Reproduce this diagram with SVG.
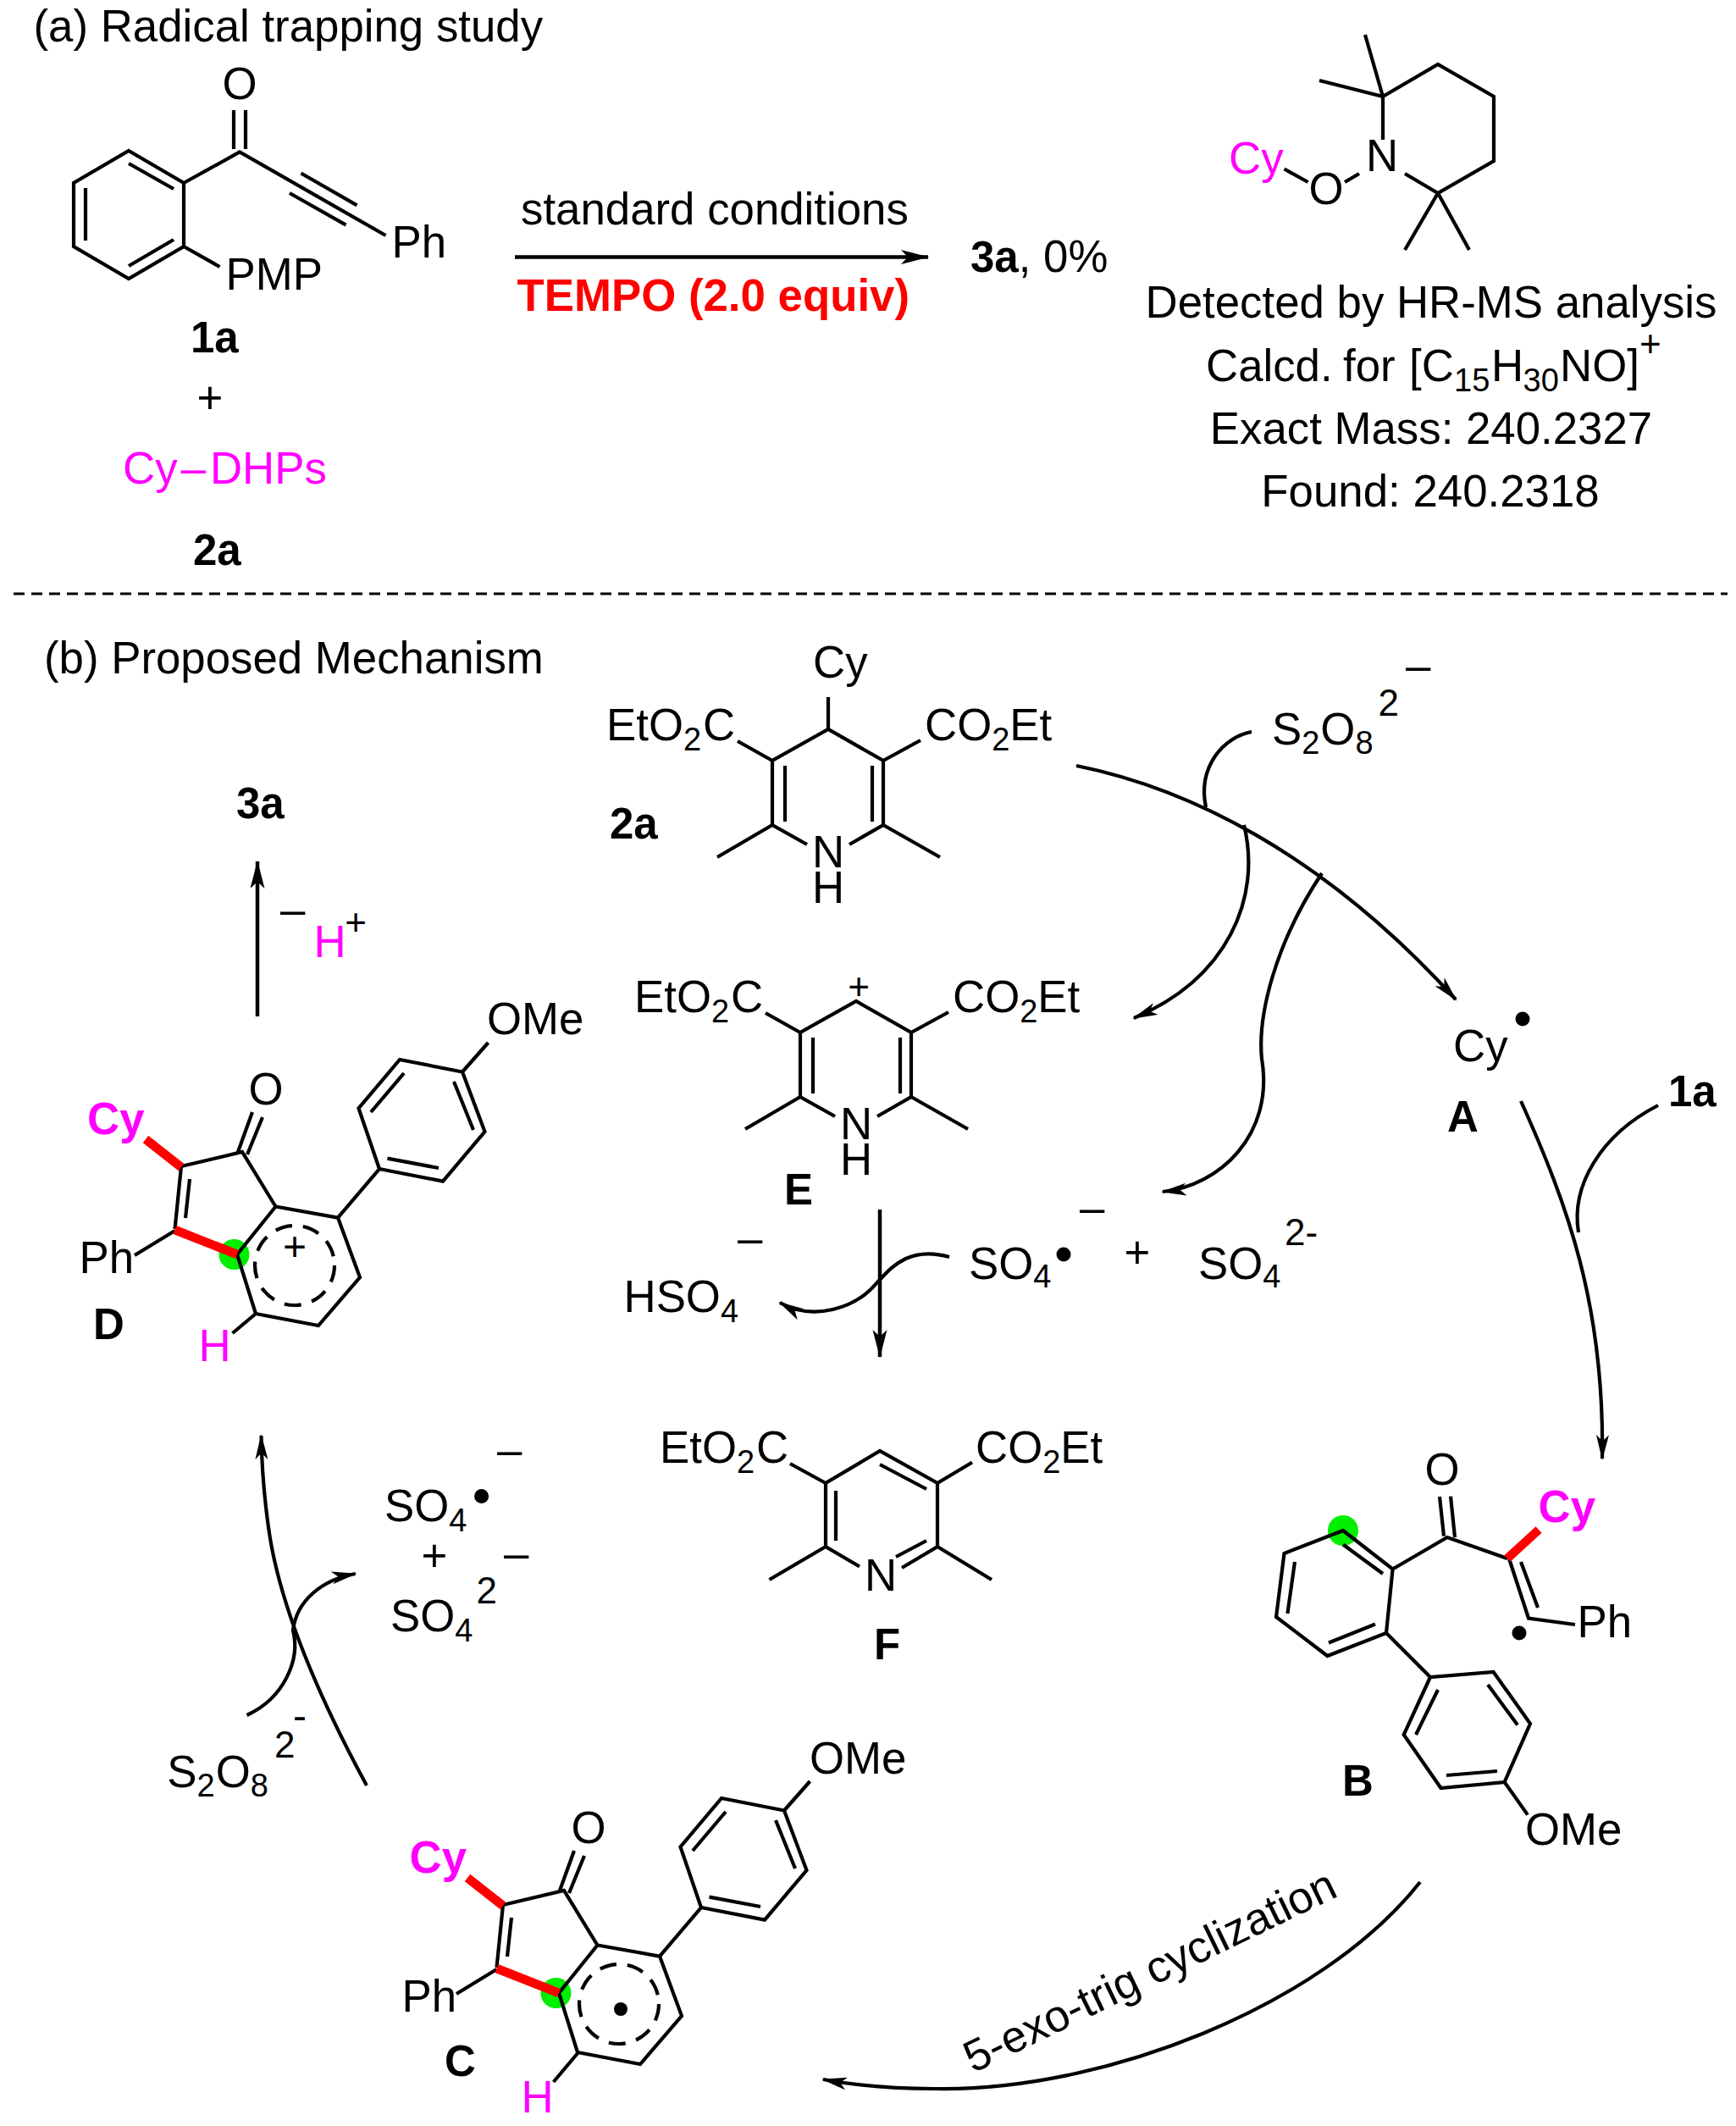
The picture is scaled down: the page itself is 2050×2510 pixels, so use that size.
<svg xmlns="http://www.w3.org/2000/svg" xmlns:xlink="http://www.w3.org/1999/xlink" width="2050" height="2510" viewBox="0 0 2050 2510">
<style>
text{font-family:"Liberation Sans",Arial,sans-serif;font-size:52.800px;fill:#000}
.b{font-weight:700}
.l{font-weight:700;font-size:51px}
.m{fill:#f0f}
.r{fill:#f00}
.s{font-size:38px}
.u{font-size:44px}
.mid{text-anchor:middle}
.bond{fill:none;stroke:#000;stroke-width:4.200;stroke-linejoin:miter}
.red{fill:none;stroke:#f00;stroke-width:10.500}
.dashring{fill:none;stroke:#000;stroke-width:4.200;stroke-dasharray:20 13}
.arr{fill:none;stroke:#000;stroke-width:4.200;marker-end:url(#hs)}
.arrb{fill:none;stroke:#000;stroke-width:4.500;marker-end:url(#hb)}
.crv{fill:none;stroke:#000;stroke-width:4.200}
.grn{fill:#00ee00}
</style>
<defs>
<marker id="hs" markerUnits="userSpaceOnUse" markerWidth="32" markerHeight="17" refX="28" refY="7.500" orient="auto"><path d="M30 7.500L0 0L7.500 7.500L0 15Z" fill="#000"/></marker>
<marker id="hb" markerUnits="userSpaceOnUse" markerWidth="36" markerHeight="20" refX="32" refY="8.500" orient="auto"><path d="M33 8.500L0 0L8 8.500L0 17Z" fill="#000"/></marker>
<g id="dhp-skeleton">
<path class="bond" d="M953 997L912 974V898L978 861L1043 898V974L1003 997M927 904V970M1030 904V970M912 974L847 1012M1043 974L1110 1012M912 898L871 875M1043 898L1087 874"/>
</g>
<g id="indenone-skeleton">
<circle class="grn" cx="276.500" cy="1481" r="18"/>
<path class="bond" d="M214 1377L286 1360L325.500 1424.500M214 1377L206.500 1451M224 1392L219 1438M281 1360L298 1313M292 1363L310 1319M159 1482L206.500 1453"/>
<path class="bond" d="M280 1481L325.500 1424.500L399 1437.600L425 1508L376 1565L302 1551Z"/>
<path class="bond" d="M399 1437.600L448 1380L423.500 1308.500L472 1251L546 1265.500L572.500 1336L523 1394.600L448 1380M438 1313L477 1267M536 1277L559 1334M518 1379L457.500 1367.600M546 1265.500L576.500 1231"/>
<path class="red" d="M172 1345L214 1378M206.500 1452L280 1481"/>
</g>
</defs>
<rect width="2050" height="2510" fill="#fff"/>

<g id="connectors">
<path id="divider" d="M16 701H2040" fill="none" stroke="#000" stroke-width="3" stroke-dasharray="13 8"/>
<path class="arrb" d="M608 303.500H1096"/>
<path class="arr" d="M1271 904C1400 930 1560 1005 1719 1180"/>
<path class="crv" d="M1478 864C1445 870 1414 905 1424 953"/>
<path class="arr" d="M1469 974C1490 1060 1450 1155 1339 1202"/>
<path class="arr" d="M1561 1031C1505 1115 1485 1200 1490 1250C1505 1340 1440 1400 1373 1407"/>
<path class="arr" d="M1796 1300C1850 1420 1895 1540 1892 1722"/>
<path class="crv" d="M1958 1305C1890 1340 1855 1400 1864 1455"/>
<path class="arrb" d="M1039 1428V1602"/>
<path class="arr" d="M1121 1484C1070 1470 1050 1500 1035 1515C1010 1545 960 1560 921 1538"/>
<path class="arrb" d="M304 1200V1017"/>
<path class="arr" d="M1677 2222C1560 2370 1300 2470 1103 2466C1055 2466 1010 2462 972 2455"/>
<path class="arr" d="M433 2108C380 2010 330 1900 317 1803C311 1760 309 1730 308.500 1695"/>
<path class="arr" d="M291.500 2025C335 2005 355 1960 346 1925C350 1890 380 1865 419.600 1858"/>
</g>

<g id="title-a"><text x="39.500" y="48.500">(a) Radical trapping study</text></g>
<g id="title-b"><text x="52" y="794.500">(b) Proposed Mechanism</text></g>

<g id="node-1a">
<path class="bond" d="M152 178L217 216V291L152 329L87 291V216ZM152 193L205 223M205 283L152 314M101 222V284M217 216L283 179.500L455.500 278M276 130V176M290 130V176M355.500 204.500L421.500 242.400M342 228L408.500 265.600M217 291L259.500 315"/>
<text class="mid" x="283" y="116.500">O</text>
<text x="462.500" y="303.500">Ph</text>
<text x="266.500" y="341.500">PMP</text>
<text class="l" x="225" y="415.500">1a</text>
<text class="mid" x="248" y="487.500">+</text>
<text class="m" x="145" y="570.500">Cy<tspan dx="4">–</tspan><tspan dx="5">DHPs</tspan></text>
<text class="l" x="228" y="666.500">2a</text>
</g>

<g id="conditions">
<text x="615" y="264.500">standard conditions</text>
<text class="b r" x="610.500" y="366.500">TEMPO (2.0 equiv)</text>
</g>
<g id="product-3a"><text x="1146" y="320.500"><tspan class="l">3a</tspan>, 0%</text></g>

<g id="node-tempo-adduct">
<path class="bond" d="M1633 165V114L1698 76L1764 114V190L1698 228L1659 205M1633 114L1612 41M1633 114L1558 95M1698 228L1659 295M1698 228L1735 295M1516.500 199.500L1544.600 215M1588 215L1605 205"/>
<text class="mid" x="1632" y="201.500">N</text>
<text class="mid" x="1566" y="240.500">O</text>
<text class="m" x="1451" y="204.500">Cy</text>
</g>
<g id="hrms">
<text class="mid" x="1690" y="374.500">Detected by HR-MS analysis</text>
<text y="450"><tspan x="1424">Calcd.</tspan> <tspan x="1586">for</tspan> <tspan x="1664">[C</tspan><tspan class="s" x="1717" y="462">15</tspan><tspan x="1761" y="450">H</tspan><tspan class="s" x="1798.500" y="462">30</tspan><tspan x="1842" y="450">NO]</tspan><tspan class="u" x="1936" y="421">+</tspan></text>
<text class="mid" x="1690" y="523.500">Exact Mass: 240.2327</text>
<text class="mid" x="1689" y="597.500">Found: 240.2318</text>
</g>

<g id="node-2a-dhp">
<use href="#dhp-skeleton"/>
<path class="bond" d="M978 861V823"/>
<text x="960" y="799.500">Cy</text>
<text x="716" y="873.500">EtO<tspan class="s" dy="12">2</tspan><tspan dx="2" dy="-12">C</tspan></text>
<text x="1092" y="873.500">CO<tspan class="s" dy="12">2</tspan><tspan dy="-12">Et</tspan></text>
<text class="mid"><tspan x="978" y="1024">N</tspan><tspan x="978" y="1066">H</tspan></text>
<text class="l" x="720" y="989.500">2a</text>
</g>

<g id="node-E">
<use href="#dhp-skeleton" transform="translate(33 321)"/>
<text class="u mid" x="1014" y="1180">+</text>
<text x="749" y="1194.500">EtO<tspan class="s" dy="12">2</tspan><tspan dx="2" dy="-12">C</tspan></text>
<text x="1125" y="1194.500">CO<tspan class="s" dy="12">2</tspan><tspan dy="-12">Et</tspan></text>
<text class="mid"><tspan x="1011" y="1345">N</tspan><tspan x="1011" y="1387">H</tspan></text>
<text class="l" x="926" y="1421.500">E</text>
</g>

<g id="node-F">
<path class="bond" d="M1015 1849.500L975 1826V1751L1039 1713L1107 1751V1826L1065 1851M987 1760V1819M1039 1729L1094 1758M1094 1819L1058 1838M975 1826L908.500 1865M1107 1826L1171 1865M975 1751L933 1728M1107 1751L1148 1726.500"/>
<text x="779" y="1726.500">EtO<tspan class="s" dy="12">2</tspan><tspan dx="2" dy="-12">C</tspan></text>
<text x="1152" y="1726.500">CO<tspan class="s" dy="12">2</tspan><tspan dy="-12">Et</tspan></text>
<text class="mid" x="1040" y="1877.500">N</text>
<text class="l" x="1032" y="1958.500">F</text>
</g>

<g id="node-S2O8-top">
<text x="1502" y="878.500">S<tspan class="s" dy="11">2</tspan><tspan dx="1" dy="-11">O</tspan><tspan class="s" dy="11">8</tspan><tspan class="u" dx="6" dy="-45">2</tspan></text>
<text x="1660" y="804">–</text>
</g>

<g id="node-A">
<text x="1716" y="1252.500">Cy</text>
<circle cx="1798" cy="1203" r="8.500"/>
<text class="l" x="1709" y="1335.500">A</text>
</g>
<g id="label-1a"><text class="l" x="1970" y="1305.500">1a</text></g>

<g id="node-SO4-radical">
<text x="1144" y="1509.500">SO<tspan class="s" dy="10">4</tspan></text>
<circle cx="1256" cy="1481" r="8.500"/>
<text x="1275" y="1444">–</text>
<text class="mid" x="1343" y="1496.500">+</text>
<text x="1415" y="1509.500">SO<tspan class="s" dy="10">4</tspan></text>
<text class="u" x="1517" y="1470">2-</text>
</g>

<g id="node-HSO4">
<text x="736.500" y="1548.500">HSO<tspan class="s" dy="12">4</tspan></text>
<text x="871" y="1480">–</text>
</g>

<g id="node-3a-top">
<text class="l" x="279" y="965.500">3a</text>
<text x="331" y="1092">–</text>
<text class="m" x="370.500" y="1129.500">H</text>
<text class="u mid" x="420" y="1104">+</text>
</g>

<g id="node-D">
<use href="#indenone-skeleton"/>
<path class="bond" d="M302 1551L274.500 1574"/>
<circle class="dashring" cx="348" cy="1494" r="47"/>
<text class="mid" x="348" y="1488" style="font-size:48px">+</text>
<text class="mid" x="314" y="1303.500">O</text>
<text class="b m" x="103" y="1338.500">Cy</text>
<text x="93.500" y="1502.500">Ph</text>
<text x="575" y="1221">OMe</text>
<text class="m" x="234.600" y="1606.500">H</text>
<text class="l" x="110" y="1580.500">D</text>
</g>

<g id="node-C">
<use href="#indenone-skeleton" transform="translate(380 872)"/>
<path class="bond" d="M683 2423L653.600 2458"/>
<circle class="dashring" cx="731" cy="2366" r="47"/>
<circle cx="733" cy="2372" r="8"/>
<text class="mid" x="695" y="2175.500">O</text>
<text class="b m" x="483.500" y="2210.500">Cy</text>
<text x="474.500" y="2374.500">Ph</text>
<text x="956" y="2093.500">OMe</text>
<text class="m" x="615.600" y="2494">H</text>
<text class="l" x="525" y="2450.500">C</text>
</g>

<g id="node-B">
<circle class="grn" cx="1586" cy="1807" r="18"/>
<path class="bond" d="M1586 1807L1644.600 1852.500L1637 1928L1567.500 1955L1507 1909L1516.500 1834ZM1586 1823.500L1633 1858M1624 1917.500L1569 1939.500M1520.400 1905L1529 1844M1644.600 1852.500L1709 1815L1780 1840M1700 1767L1705 1813.600M1713 1766.600L1718 1815M1782 1840L1805 1910.500L1860 1918M1796 1844L1816 1898"/>
<path class="bond" d="M1637 1928L1689 1980L1763.600 1974L1807 2035L1776.600 2104L1701.500 2111L1657.700 2048L1689 1980M1757 1989L1792 2036.500M1768 2091L1708 2096M1672 2048L1698 1995M1776.600 2104L1804 2142.600"/>
<path class="red" d="M1780 1840L1817 1806"/>
<text class="mid" x="1703" y="1752.500">O</text>
<text class="b m" x="1816.500" y="1797">Cy</text>
<text x="1862.500" y="1932.500">Ph</text>
<circle cx="1794" cy="1928" r="8.500"/>
<text x="1801" y="2177.500">OMe</text>
<text class="l" x="1585" y="2119.500">B</text>
</g>

<g id="label-cyclization"><text transform="translate(1149 2448) rotate(-25.900)">5-exo-trig cyclization</text></g>

<g id="node-SO4-left">
<text x="454" y="1796">SO<tspan class="s" dy="11.500">4</tspan></text>
<circle cx="568.600" cy="1766.600" r="8.500"/>
<text x="587" y="1730">–</text>
<text class="mid" x="513" y="1855">+</text>
<text x="595" y="1852">–</text>
<text x="461" y="1925.500">SO<tspan class="s" dy="12">4</tspan></text>
<text class="u" x="562.400" y="1893">2</text>
</g>

<g id="node-S2O8-left">
<text x="197.300" y="2109.500">S<tspan class="s" dy="11">2</tspan><tspan dx="1" dy="-11">O</tspan><tspan class="s" dy="11">8</tspan><tspan class="u" dx="7" dy="-46">2</tspan></text>
<text x="346" y="2042" style="font-size:48px">-</text>
</g>
</svg>
